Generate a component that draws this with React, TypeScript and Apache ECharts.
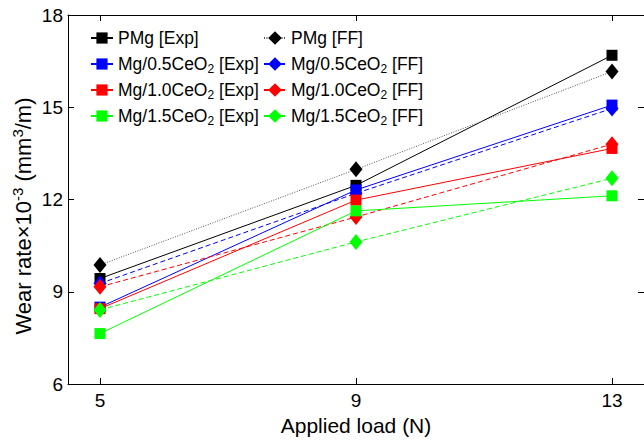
import React, { useEffect, useRef } from "react";
import * as echarts from "echarts";

const loads = [5, 9, 13];
const xTicks = [5, 9, 13];

const pmgExp = [9.43, 12.46, 16.69];
const pmgFF = [9.87, 12.98, 16.16];
const ce05Exp = [8.5, 12.31, 15.07];
const ce05FF = [9.27, 12.2, 14.96];
const ce10Exp = [8.45, 11.98, 13.66];
const ce10FF = [9.16, 11.43, 13.8];
const ce15Exp = [7.64, 11.63, 12.12];
const ce15FF = [8.41, 10.62, 12.69];

const seriesDefs = [
  { name: "PMg [Exp]", label: "PMg [Exp]", data: pmgExp, color: "#000000", kind: "exp", dash: "solid" },
  { name: "PMg [FF]", label: "PMg [FF]", data: pmgFF, color: "#000000", kind: "ff", dash: "dotted" },
  { name: "Mg/0.5CeO2 [Exp]", label: "Mg/0.5CeO{sub|2} [Exp]", data: ce05Exp, color: "#0000ff", kind: "exp", dash: "solid" },
  { name: "Mg/0.5CeO2 [FF]", label: "Mg/0.5CeO{sub|2} [FF]", data: ce05FF, color: "#0000ff", kind: "ff", dash: "dashed" },
  { name: "Mg/1.0CeO2 [Exp]", label: "Mg/1.0CeO{sub|2} [Exp]", data: ce10Exp, color: "#ff0000", kind: "exp", dash: "solid" },
  { name: "Mg/1.0CeO2 [FF]", label: "Mg/1.0CeO{sub|2} [FF]", data: ce10FF, color: "#ff0000", kind: "ff", dash: "dashed" },
  { name: "Mg/1.5CeO2 [Exp]", label: "Mg/1.5CeO{sub|2} [Exp]", data: ce15Exp, color: "#00ff00", kind: "exp", dash: "solid" },
  { name: "Mg/1.5CeO2 [FF]", label: "Mg/1.5CeO{sub|2} [FF]", data: ce15FF, color: "#00ff00", kind: "ff", dash: "dashed" },
];

const FONT = "Liberation Sans";

export default function App() {
  const ref = useRef<HTMLDivElement>(null);
  useEffect(() => {
    if (!ref.current) return;
    const chart = echarts.init(ref.current, null, { renderer: "svg" });
    const labelMap: Record<string, string> = {};
    seriesDefs.forEach((s) => (labelMap[s.name] = s.label));

    const legendCommon = {
      orient: "vertical",
      top: 27,
      itemWidth: 22,
      itemGap: 4,
      padding: 0,
      formatter: (n: string) => labelMap[n],
      textStyle: {
        fontFamily: FONT,
        fontSize: 17.5,
        color: "#000",
        lineHeight: 22,
        rich: {
          sub: { fontFamily: FONT, fontSize: 12, lineHeight: 10, verticalAlign: "bottom", color: "#000" },
        },
      },
    };

    const axisLineStyle = { color: "#000", width: 1 };

    chart.setOption({
      animation: false,
      backgroundColor: "#fff",
      grid: { left: 68, top: 15, right: -2, bottom: 59, containLabel: false },
      legend: [
        { ...legendCommon, left: 90, itemHeight: 14, data: seriesDefs.filter((s) => s.kind === "exp").map((s) => s.name) },
        { ...legendCommon, left: 263, itemHeight: 17, data: seriesDefs.filter((s) => s.kind === "ff").map((s) => s.name) },
      ],
      xAxis: [
        {
          type: "value",
          min: 4.5,
          max: 13.5,
          position: "bottom",
          name: "Applied load (N)",
          nameLocation: "middle",
          nameGap: 29,
          nameTextStyle: { fontFamily: FONT, fontSize: 21, color: "#000" },
          axisLine: { show: true, lineStyle: axisLineStyle },
          axisTick: { show: true, inside: true, length: 6, customValues: xTicks, lineStyle: axisLineStyle },
          axisLabel: { customValues: xTicks, fontFamily: FONT, fontSize: 19, color: "#000", margin: 7 },
          splitLine: { show: false },
        },
        {
          type: "value",
          min: 4.5,
          max: 13.5,
          position: "top",
          axisLine: { show: true, lineStyle: axisLineStyle },
          axisTick: { show: true, inside: true, length: 6, customValues: xTicks, lineStyle: axisLineStyle },
          axisLabel: { show: false },
          splitLine: { show: false },
        },
      ],
      yAxis: [
        {
          type: "value",
          min: 6,
          max: 18,
          interval: 3,
          position: "left",
          axisLine: { show: true, lineStyle: axisLineStyle },
          axisTick: { show: true, inside: true, length: 6, lineStyle: axisLineStyle },
          axisLabel: { fontFamily: FONT, fontSize: 19, color: "#000", margin: 5 },
          splitLine: { show: false },
        },
        {
          type: "value",
          min: 6,
          max: 18,
          interval: 3,
          position: "right",
          axisLine: { show: true, lineStyle: axisLineStyle },
          axisTick: { show: true, inside: true, length: 6, lineStyle: axisLineStyle },
          axisLabel: { show: false },
          splitLine: { show: false },
        },
      ],
      graphic: [
        {
          type: "text",
          x: 23,
          y: 216,
          rotation: Math.PI / 2,
          style: {
            text: "Wear rate×10{sup|-3} (mm{sup|3}/m)",
            fontFamily: FONT,
            fontSize: 22,
            fill: "#000",
            align: "center",
            verticalAlign: "middle",
            lineHeight: 26,
            rich: {
              sup: { fontFamily: FONT, fontSize: 15, lineHeight: 14, verticalAlign: "top", fill: "#000" },
            },
          },
        },
      ],
      series: seriesDefs.map((s) => ({
        name: s.name,
        type: "line",
        xAxisIndex: 0,
        yAxisIndex: 0,
        data: loads.map((x, i) => [x, s.data[i]]),
        symbol: s.kind === "exp" ? "rect" : "diamond",
        symbolSize: s.kind === "exp" ? 11 : [13, 16],
        showSymbol: true,
        itemStyle: { color: s.color, borderWidth: 0 },
        lineStyle: {
          color: s.dash === "dotted" ? "#555" : s.color,
          width: 1,
          type: s.dash === "solid" ? "solid" : s.dash === "dotted" ? [1, 1.5] : [5, 3],
        },
        emphasis: { disabled: true },
      })),
    });
    return () => chart.dispose();
  }, []);
  return <div ref={ref} style={{ position: "fixed", left: 0, top: 0, width: 644, height: 443 }} />;
}
